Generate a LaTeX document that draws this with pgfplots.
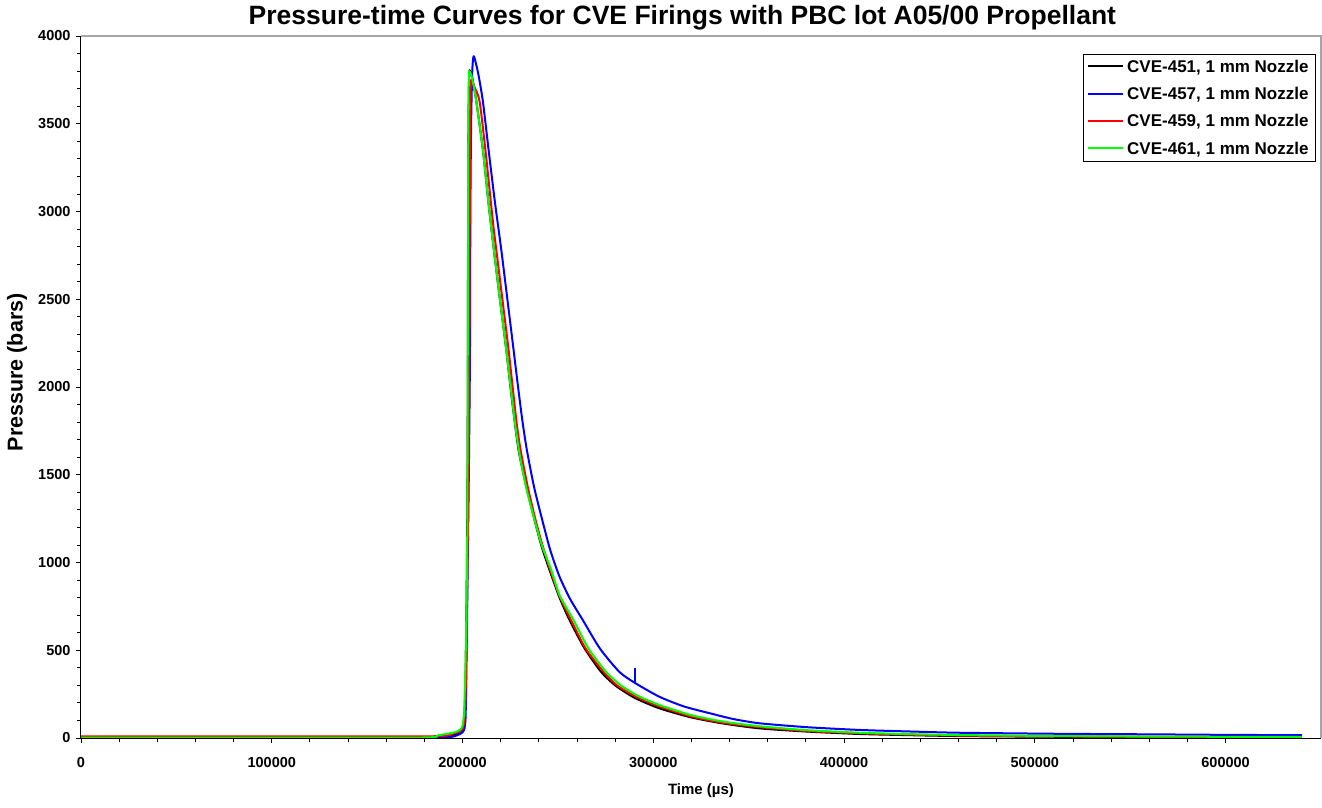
\documentclass[border=0pt]{standalone}
\usepackage{fontspec}
\setmainfont{Liberation Sans}
\usepackage{pgfplots}
\pgfplotsset{compat=1.18}
\definecolor{cBlack}{RGB}{0,0,0}
\definecolor{cBlue}{RGB}{0,0,255}
\definecolor{cRed}{RGB}{255,0,0}
\definecolor{cGreen}{RGB}{0,255,0}
\begin{document}
\begin{tikzpicture}[x=1pt,y=1pt]
\path[use as bounding box] (-81pt,-69pt) rectangle (1241pt,738pt);
\begin{axis}[
  at={(0pt,0pt)}, anchor=south west,
  scale only axis, width=1240pt, height=702pt,
  xmin=0, xmax=650000, ymin=0, ymax=4000,
  xtick={0,100000,...,600000}, ytick={0,500,...,4000},
  minor x tick num=4, minor y tick num=4,
  tick pos=left, tick align=outside,
  major tick length=5pt, minor tick length=4pt,
  every tick/.style={black, line width=0.9pt},
  scaled ticks=false,
  /pgf/number format/.cd, fixed, 1000 sep={}, assume math mode=true,
  /pgfplots/.cd,
  tick label style={font=\fontsize{14.5}{16}\selectfont\bfseries},
  xticklabel style={yshift=-10.5pt},
  yticklabel style={xshift=-2pt},
  axis line style={draw=none},
  title={\fontsize{26.5}{30}\selectfont\bfseries Pressure-time Curves for CVE Firings with PBC lot A05/00 Propellant},
  title style={at={(0.485,1)}, anchor=base, yshift=6pt},
  xlabel={\fontsize{15}{18}\selectfont\bfseries Time (µs)},
  ylabel={\fontsize{21.5}{24}\selectfont\bfseries Pressure (bars)},
  xlabel style={at={(0.5,0)}, anchor=center, yshift=-53pt},
  ylabel style={at={(axis description cs:-0.0516,0.521)}, anchor=center},
  legend style={at={(1,1)}, anchor=north east, xshift=-5pt, yshift=-18pt,
    font=\fontsize{17}{19}\selectfont\bfseries, draw=black, line width=0.8pt,
    row sep=10.5pt, inner xsep=4pt, inner ysep=4pt,
    nodes={inner xsep=3pt, inner ysep=1.5pt}},
  legend cell align=left,
  legend image code/.code={\draw[line width=2pt, #1] (0pt,0.4pt) -- (35pt,0.4pt);},
  every axis plot/.append style={line width=2pt, line join=round},
  after end axis/.code={
    \draw[gray!70, line width=1.5pt] (rel axis cs:0,1) -- (rel axis cs:1,1) -- (rel axis cs:1,0);
    \draw[black, line width=1pt] (rel axis cs:0,1) -- (rel axis cs:0,0) -- (rel axis cs:1,0);
  },
]
% CVE-451
\addplot[draw=cBlack, smooth, tension=0.4, forget plot] coordinates {
(0,2)(100000,2)(180000,2)(188000,5)(195000,15)(199000,35)(200500,70)(201500,250)(202300,1000)(202700,1700)(202900,2800)(203100,3400)(203400,3750)(203700,3805)(204500,3785)(205500,3740)(207200,3630)(210690,3350)(213500,3060)(216440,2781)(219700,2490)(222940,2211)(226000,1920)(229380,1641)(233500,1430)(237760,1242)(241500,1090)(245610,957)(250850,800)(256090,672)(264000,510)(272690,376)(280000,300)(290000,230)(303220,169)(320000,117)(337000,82)(355590,55)(380000,37)(407960,23)(435000,16)(460330,11)(512700,7)(560000,5)(640000,4)
};
% CVE-457
\addplot[draw=cBlue, smooth, tension=0.4, forget plot] coordinates {
(0,1)(100000,1)(185000,1)(195000,8)(199000,25)(200800,45)(201600,120)(202100,450)(202600,900)(203300,1500)(203900,2200)(204100,3000)(204500,3500)(205100,3800)(205800,3885)(207000,3845)(208500,3770)(210700,3625)(213670,3350)(216900,3060)(220320,2781)(223500,2500)(226760,2211)(229000,2010)(231320,1812)(233720,1641)(237500,1430)(241790,1242)(246000,1070)(250850,919)(256500,790)(263050,672)(272000,510)(282270,376)(290650,312)(303220,235)(316000,180)(330000,140)(342000,108)(355590,84)(380000,62)(407960,46)(435000,37)(460330,30)(512700,24)(560000,21)(600000,18)(640000,16)
};
% CVE-459
\addplot[draw=cRed, smooth, tension=0.4, forget plot] coordinates {
(0,10)(100000,10)(185000,10)(195000,25)(199000,40)(200500,70)(201500,200)(202300,700)(203000,1400)(203600,2200)(203800,3000)(204000,3500)(204300,3700)(204600,3750)(206000,3715)(208900,3630)(212000,3350)(216000,2934)(217700,2781)(221000,2490)(224140,2211)(228170,1812)(230430,1641)(234200,1430)(238280,1242)(242000,1095)(246000,957)(251000,805)(256500,680)(264500,510)(274000,376)(281000,300)(291000,235)(303220,180)(320000,122)(337000,86)(355590,62)(380000,40)(407960,27)(435000,19)(460330,14)(512700,9)(560000,7)(640000,5)
};
% CVE-461
\addplot[draw=cGreen, smooth, tension=0.4, forget plot] coordinates {
(0,2)(100000,2)(180000,3)(187000,15)(195000,30)(198500,45)(200000,70)(200800,150)(201500,400)(202000,700)(202500,1200)(202800,2500)(203000,3400)(203300,3750)(203500,3800)(204500,3780)(205500,3735)(207200,3630)(210690,3350)(213500,3060)(216440,2781)(219700,2490)(222940,2211)(227280,1812)(230000,1610)(233500,1420)(237760,1242)(241500,1100)(246500,957)(251000,810)(258180,672)(266000,510)(275310,376)(283000,300)(292000,240)(303220,188)(320000,130)(337000,93)(355590,67)(380000,45)(407960,30)(435000,22)(460330,17)(512700,11)(560000,8)(640000,6)
};
% CVE-457 spike
\addplot[draw=cBlue, forget plot] coordinates {(290650,312)(290650,397)};
\addlegendimage{draw=cBlack}
\addlegendentry{CVE-451, 1 mm Nozzle}
\addlegendimage{draw=cBlue}
\addlegendentry{CVE-457, 1 mm Nozzle}
\addlegendimage{draw=cRed}
\addlegendentry{CVE-459, 1 mm Nozzle}
\addlegendimage{draw=cGreen}
\addlegendentry{CVE-461, 1 mm Nozzle}
\end{axis}
\end{tikzpicture}
\end{document}
